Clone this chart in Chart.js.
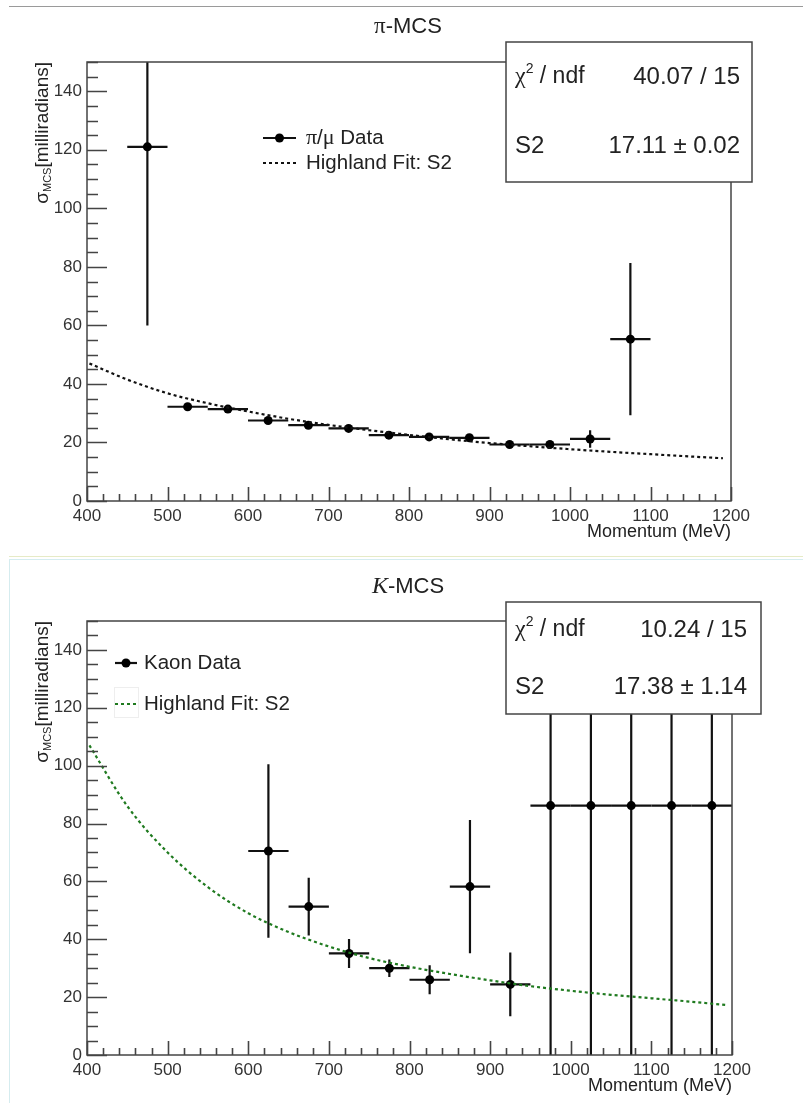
<!DOCTYPE html>
<html>
<head>
<meta charset="utf-8">
<script src="https://cdn.jsdelivr.net/npm/chart.js@4.4.1/dist/chart.umd.min.js"></script>
<style>
  html, body { margin: 0; padding: 0; background: #fff; }
  body { width: 803px; height: 1103px; position: relative; overflow: hidden; }
  .topline { position: absolute; left: 9px; right: 0; top: 6px; height: 1px; background: #9a9a9a; }
  .sep1 { position: absolute; left: 9px; right: 0; top: 556px; height: 1px; background: #e6ebc6; }
  .sep2 { position: absolute; left: 9px; right: 0; top: 559px; height: 1px; background: #d5ecef; }
  .side { position: absolute; left: 9px; top: 559px; bottom: 0; width: 1px; background: #d5ecef; }
  canvas { position: absolute; left: 0; }
  #pion { top: 0; }
  #kaon { top: 560px; }
</style>
</head>
<body>
<div class="topline"></div>
<div class="sep1"></div>
<div class="sep2"></div>
<div class="side"></div>
<canvas id="pion" width="803" height="553"></canvas>
<canvas id="kaon" width="803" height="543"></canvas>
<script>
// axis ticks
const xTicks = [400, 500, 600, 700, 800, 900, 1000, 1100, 1200];
const yTicks = [0, 20, 40, 60, 80, 100, 120, 140];

// pi/mu data (bin centres, sigma, vertical error), bins are 50 MeV wide
const piMomentum = [475, 525, 575, 625, 675, 725, 775, 825, 875, 925, 975, 1025, 1075];
const piSigma    = [121, 32.2, 31.4, 27.5, 25.9, 24.8, 22.5, 21.9, 21.6, 19.3, 19.3, 21.2, 55.3];
const piErr      = [61, 1.2, 1.2, 1.2, 1, 1, 1, 1, 1, 1, 1, 3, 26];

// highland fit curve
const piFitP     = [403, 450, 500, 550, 600, 650, 700, 750, 800, 850, 900, 950, 1000, 1050, 1100, 1150, 1190];
const piFitSigma = [47, 41.5, 36.8, 33.4, 30.6, 28.1, 26, 24.2, 22.6, 21.1, 19.8, 18.7, 17.7, 16.8, 16, 15.2, 14.6];

// kaon data
const kMomentum = [625, 675, 725, 775, 825, 875, 925, 975, 1025, 1075, 1125, 1175];
const kSigma    = [70.5, 51.3, 35.1, 30, 26, 58.2, 24.4, 86.2, 86.2, 86.2, 86.2, 86.2];
const kErr      = [30, 10, 5, 3, 5, 23, 11, 120, 120, 120, 120, 120];

// highland fit curve
const kFitP     = [403, 450, 500, 550, 600, 650, 700, 750, 800, 850, 900, 950, 1000, 1050, 1100, 1150, 1195];
const kFitSigma = [107, 86, 70, 58, 49, 42.5, 37.5, 33.5, 30.5, 28, 25.8, 23.8, 22.2, 20.8, 19.6, 18.4, 17.2];

const binHalf = 25;

const SANS = '"Liberation Sans", Arial, Helvetica, sans-serif';
const SERIF = '"Liberation Serif", "Times New Roman", serif';
const INK = '#222';

function runs(ctx, parts, x, y, align) {
  let w = 0;
  parts.forEach(p => { ctx.font = p[1]; w += ctx.measureText(p[0]).width; });
  let cx = align === 'right' ? x - w : align === 'center' ? x - w / 2 : x;
  ctx.textAlign = 'left';
  ctx.textBaseline = 'middle';
  parts.forEach(p => {
    ctx.font = p[1];
    ctx.fillText(p[0], cx, y + (p[2] || 0));
    cx += ctx.measureText(p[0]).width;
  });
}

const errorBars = {
  id: 'errorBars',
  beforeDatasetsDraw(chart, args, o) {
    const { ctx, chartArea: a, scales: { x, y } } = chart;
    ctx.save();
    ctx.beginPath();
    ctx.rect(a.left, a.top, a.width, a.height);
    ctx.clip();
    ctx.strokeStyle = '#111';
    ctx.lineWidth = 2.2;
    o.xs.forEach((v, i) => {
      const px = x.getPixelForValue(v);
      const py = y.getPixelForValue(o.ys[i]);
      ctx.beginPath();
      ctx.moveTo(x.getPixelForValue(v - binHalf), py);
      ctx.lineTo(x.getPixelForValue(v + binHalf), py);
      ctx.moveTo(px, y.getPixelForValue(o.ys[i] + o.es[i]));
      ctx.lineTo(px, y.getPixelForValue(o.ys[i] - o.es[i]));
      ctx.stroke();
    });
    ctx.restore();
  }
};

const frame = {
  id: 'frame',
  afterDatasetsDraw(chart) {
    const { ctx, chartArea: a, scales: { x, y } } = chart;
    ctx.save();
    ctx.strokeStyle = '#444';
    ctx.lineWidth = 1.5;
    ctx.strokeRect(a.left, a.top, a.width, a.height);
    ctx.lineWidth = 1.6;
    ctx.beginPath();
    for (let v = 0; v <= 150; v += 5) {
      const py = Math.round(y.getPixelForValue(v)) + 0.5;
      const len = v % 20 === 0 ? 20 : 11;
      ctx.moveTo(a.left, py);
      ctx.lineTo(a.left + len, py);
    }
    for (let v = 400; v <= 1200; v += 20) {
      const px = Math.round(x.getPixelForValue(v)) + 0.5;
      const len = v % 100 === 0 ? 14 : 7;
      ctx.moveTo(px, a.bottom);
      ctx.lineTo(px, a.bottom - len);
    }
    ctx.stroke();
    ctx.restore();
  }
};

const deco = {
  id: 'deco',
  afterDraw(chart, args, o) {
    const { ctx, chartArea: a } = chart;
    ctx.save();
    ctx.fillStyle = INK;
    // title
    runs(ctx, o.title, 408, 27, 'center');
    // x axis title
    runs(ctx, [['Momentum (MeV)', '18px ' + SANS]], a.right, a.bottom + 31, 'right');
    // y axis title
    ctx.save();
    ctx.translate(43, a.top);
    ctx.rotate(-Math.PI / 2);
    runs(ctx, [['σ', '19px ' + SANS], ['MCS', '11px ' + SANS, 5], ['[milliradians]', '19px ' + SANS]], 0, 0, 'right');
    ctx.restore();

    // legend
    const L = o.legend;
    ctx.strokeStyle = '#111';
    ctx.lineWidth = 2.2;
    ctx.beginPath();
    ctx.moveTo(L.x0, L.y1); ctx.lineTo(L.x1, L.y1);
    ctx.stroke();
    ctx.beginPath();
    ctx.arc((L.x0 + L.x1) / 2, L.y1, 4.5, 0, Math.PI * 2);
    ctx.fillStyle = '#000';
    ctx.fill();
    if (L.box) {
      ctx.strokeStyle = '#eee';
      ctx.lineWidth = 1;
      ctx.strokeRect(L.x0 - 0.5, L.y2 - 16.5, L.x1 - L.x0 + 2, 30);
    }
    ctx.strokeStyle = L.fitColor;
    ctx.lineWidth = 2.2;
    ctx.setLineDash([3, 3]);
    ctx.beginPath();
    ctx.moveTo(L.x0, L.y2); ctx.lineTo(L.x1, L.y2);
    ctx.stroke();
    ctx.setLineDash([]);
    ctx.fillStyle = INK;
    runs(ctx, L.label, L.tx, L.y1, 'left');
    runs(ctx, [['Highland Fit: S2', '20.5px ' + SANS]], L.tx, L.y2, 'left');

    // fit statistics box
    const B = o.stats;
    ctx.fillStyle = '#fff';
    ctx.fillRect(B.x0, B.y0, B.x1 - B.x0, B.y1 - B.y0);
    ctx.strokeStyle = '#444';
    ctx.lineWidth = 1.5;
    ctx.strokeRect(B.x0, B.y0, B.x1 - B.x0, B.y1 - B.y0);
    ctx.fillStyle = INK;
    runs(ctx, [['χ', '24px ' + SERIF], ['2', '14px ' + SANS, -8], [' / ndf', '23px ' + SANS]], B.x0 + 9, B.r1, 'left');
    runs(ctx, [[B.chi, '24px ' + SANS]], B.tr, B.r1, 'right');
    runs(ctx, [['S2', '24px ' + SANS]], B.x0 + 9, B.r2, 'left');
    runs(ctx, [[B.s2, '24px ' + SANS]], B.tr, B.r2, 'right');
    ctx.restore();
  }
};

function makePanel(id, p) {
  return new Chart(document.getElementById(id), {
    type: 'scatter',
    data: {
      datasets: [
        {
          data: p.fitP.map((v, i) => ({ x: v, y: p.fitS[i] })),
          showLine: true,
          pointRadius: 0,
          borderColor: p.fitColor,
          borderWidth: 2.2,
          borderDash: [3, 3],
          cubicInterpolationMode: 'monotone'
        },
        {
          data: p.xs.map((v, i) => ({ x: v, y: p.ys[i] })),
          showLine: false,
          pointRadius: 4.5,
          pointBackgroundColor: '#000',
          pointBorderWidth: 0
        }
      ]
    },
    options: {
      responsive: false,
      animation: false,
      events: [],
      layout: { padding: { left: 0, top: p.top, right: p.right, bottom: 0 } },
      plugins: {
        legend: { display: false },
        tooltip: { enabled: false },
        errorBars: { xs: p.xs, ys: p.ys, es: p.es },
        deco: { title: p.title, legend: p.legend, stats: p.stats }
      },
      scales: {
        x: {
          type: 'linear', min: 400, max: 1200,
          afterBuildTicks: s => { s.ticks = xTicks.map(v => ({ value: v })); },
          afterFit: s => { s.height = p.xh; },
          grid: { display: false, drawTicks: false },
          border: { display: false },
          ticks: { padding: 5, color: '#333', font: { family: SANS, size: 17 }, maxRotation: 0, callback: v => String(v) }
        },
        y: {
          type: 'linear', min: 0, max: 150,
          afterBuildTicks: s => { s.ticks = yTicks.map(v => ({ value: v })); },
          afterFit: s => { s.width = 87; },
          grid: { display: false, drawTicks: false },
          border: { display: false },
          ticks: { padding: 5, color: '#333', font: { family: SANS, size: 17 }, callback: v => String(v) }
        }
      }
    },
    plugins: [errorBars, frame, deco]
  });
}

makePanel('pion', {
  xs: piMomentum, ys: piSigma, es: piErr,
  fitP: piFitP, fitS: piFitSigma, fitColor: '#111',
  top: 62, right: 72, xh: 52,
  title: [['π', '23px ' + SERIF], ['-MCS', '22px ' + SANS]],
  legend: { x0: 263, x1: 296, tx: 306, y1: 138, y2: 163, fitColor: '#111', box: false,
            label: [['π', '22px ' + SERIF], ['/', '20.5px ' + SANS], ['μ', '22px ' + SERIF], [' Data', '20.5px ' + SANS]] },
  stats: { x0: 506, y0: 42, x1: 752, y1: 182, r1: 77, r2: 146, tr: 740, chi: '40.07 / 15', s2: '17.11 ± 0.02' }
});

makePanel('kaon', {
  xs: kMomentum, ys: kSigma, es: kErr,
  fitP: kFitP, fitS: kFitSigma, fitColor: '#1f7a1f',
  top: 61, right: 71, xh: 48,
  title: [['K', 'italic 24px ' + SERIF], ['-MCS', '22px ' + SANS]],
  legend: { x0: 115, x1: 137, tx: 144, y1: 103, y2: 144, fitColor: '#1f7a1f', box: true,
            label: [['Kaon Data', '20.5px ' + SANS]] },
  stats: { x0: 506, y0: 42, x1: 761, y1: 154, r1: 70, r2: 127, tr: 747, chi: '10.24 / 15', s2: '17.38 ± 1.14' }
});
</script>
</body>
</html>
